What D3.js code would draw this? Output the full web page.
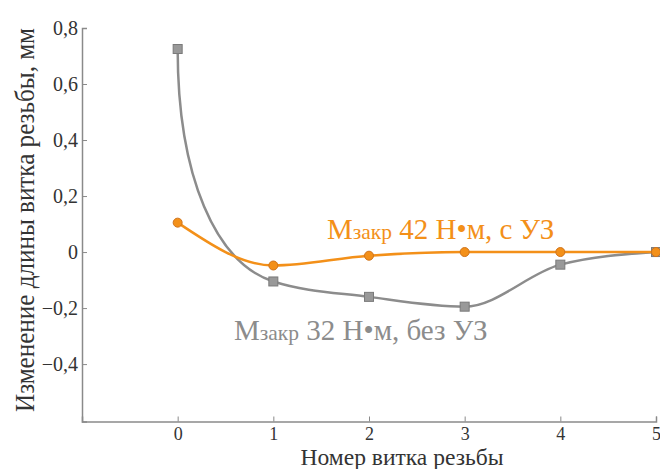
<!DOCTYPE html>
<html><head><meta charset="utf-8">
<script src="https://cdn.jsdelivr.net/npm/d3@7"></script>
<style>body{margin:0;background:#fff}svg{display:block}
svg text{font-family:"Liberation Serif","DejaVu Serif","Noto Serif","Times New Roman",Tinos,serif}</style>
</head><body>
<svg id="c" width="660" height="469"></svg>
<script>
const turns = [0, 1, 2, 3, 4, 5];
const seriesNoUS = [0.725, -0.105, -0.16, -0.195, -0.045, 0];
const seriesUS = [0.105, -0.048, -0.013, 0, 0, 0];
const xTicks = [0, 1, 2, 3, 4, 5];
const yTicks = [0.8, 0.6, 0.4, 0.2, 0, -0.2, -0.4];
const labelNoUS = ["M", "закр", " 32 Н•м, без УЗ"];
const labelUS = ["M", "закр", " 42 Н•м, с УЗ"];
const xTitle = "Номер витка резьбы";
const yTitle = "Изменение длины витка резьбы, мм";

const svg = d3.select("#c");
const x = d3.scaleLinear().domain([-1, 5]).range([82, 656]);
const y = d3.scaleLinear().domain([-0.605, 0.8]).range([421.5, 28]);
const fmt = d => d === 0 ? "0" : d3.format(".1f")(d).replace(".", ",");
const axisColor = "#8a8a8a";

// axes
const gx = svg.append("g").attr("transform", `translate(0,${y(-0.605)})`)
  .call(d3.axisBottom(x).tickValues(xTicks).tickSize(-5).tickPadding(6).tickFormat(d3.format("d")));
const gy = svg.append("g").attr("transform", `translate(${x(-1)},0)`)
  .call(d3.axisLeft(y).tickValues(yTicks).tickSize(-5).tickPadding(4).tickFormat(fmt));
[gx, gy].forEach(g => {
  g.attr("font-family", null);
  g.select(".domain").attr("stroke", axisColor).attr("stroke-width", 1.5);
  g.selectAll(".tick line").attr("stroke", axisColor).attr("stroke-width", 1);
  g.selectAll("text").attr("fill", "#333");
});
gy.selectAll("text").attr("font-size", 20);
gx.selectAll("text").attr("font-size", 18).attr("dy", "0.71em");

// titles
svg.append("text").attr("x", 402).attr("y", 465).attr("text-anchor", "middle")
  .attr("font-size", 23).attr("textLength", 203).attr("lengthAdjust", "spacingAndGlyphs")
  .attr("fill", "#333").text(xTitle);
svg.append("text").attr("transform", "translate(34,220) rotate(-90)").attr("text-anchor", "middle")
  .attr("font-size", 27).attr("textLength", 384).attr("lengthAdjust", "spacingAndGlyphs")
  .attr("fill", "#333").text(yTitle);

// smooth path through data points (monotone Hermite tangents); optional vertical start
function slope3(x0, x1, x2, y0, y1, y2) {
  const h0 = x1 - x0, h1 = x2 - x1, s0 = (y1 - y0) / h0, s1 = (y2 - y1) / h1;
  const p = (s0 * h1 + s1 * h0) / (h0 + h1);
  return (Math.sign(s0) + Math.sign(s1)) * Math.min(Math.abs(s0), Math.abs(s1), 0.5 * Math.abs(p)) || 0;
}
function smoothPath(vals, verticalStart) {
  const px = turns.map(t => x(t)), py = vals.map(v => y(v)), n = px.length;
  const m = new Array(n);
  for (let i = 1; i < n - 1; i++) m[i] = slope3(px[i-1], px[i], px[i+1], py[i-1], py[i], py[i+1]);
  m[0] = (3 * (py[1] - py[0]) / (px[1] - px[0]) - m[1]) / 2;
  m[n-1] = (3 * (py[n-1] - py[n-2]) / (px[n-1] - px[n-2]) - m[n-2]) / 2;
  const p = d3.path();
  p.moveTo(px[0], py[0]);
  for (let i = 0; i < n - 1; i++) {
    const h = px[i+1] - px[i];
    if (i === 0 && verticalStart) {
      p.bezierCurveTo(px[0], py[0] + 0.55 * (py[1] - py[0]),
        px[1] - 0.6 * h, py[1] - m[1] * 0.6 * h, px[1], py[1]);
    } else {
      p.bezierCurveTo(px[i] + h / 3, py[i] + m[i] * h / 3,
        px[i+1] - h / 3, py[i+1] - m[i+1] * h / 3, px[i+1], py[i+1]);
    }
  }
  return p.toString();
}

const gray = "#8c8c8c";
const orange = "#f39019";
svg.append("path").attr("d", smoothPath(seriesNoUS, true)).attr("fill", "none")
  .attr("stroke", gray).attr("stroke-width", 2.5);
svg.append("path").attr("d", smoothPath(seriesUS, false)).attr("fill", "none")
  .attr("stroke", orange).attr("stroke-width", 2.5);

svg.append("g").selectAll("rect").data(seriesNoUS).join("rect")
  .attr("x", (d, i) => x(turns[i]) - 4.5).attr("y", d => y(d) - 4.5)
  .attr("width", 9).attr("height", 9).attr("fill", "#999").attr("stroke", "#7a7a7a").attr("stroke-width", 1);
svg.append("g").selectAll("circle").data(seriesUS).join("circle")
  .attr("cx", (d, i) => x(turns[i])).attr("cy", d => y(d)).attr("r", 4.5)
  .attr("fill", orange).attr("stroke", "#d0731a").attr("stroke-width", 1);

function label(parts, px, py, color) {
  const t = svg.append("text").attr("x", px).attr("y", py)
    .attr("font-size", 29).attr("fill", color);
  t.append("tspan").text(parts[0]);
  t.append("tspan").attr("font-size", 21.5).text(parts[1]);
  t.append("tspan").text(parts[2]);
}
label(labelUS, 327, 239, orange);
label(labelNoUS, 234, 340, gray);
</script>
</body></html>
